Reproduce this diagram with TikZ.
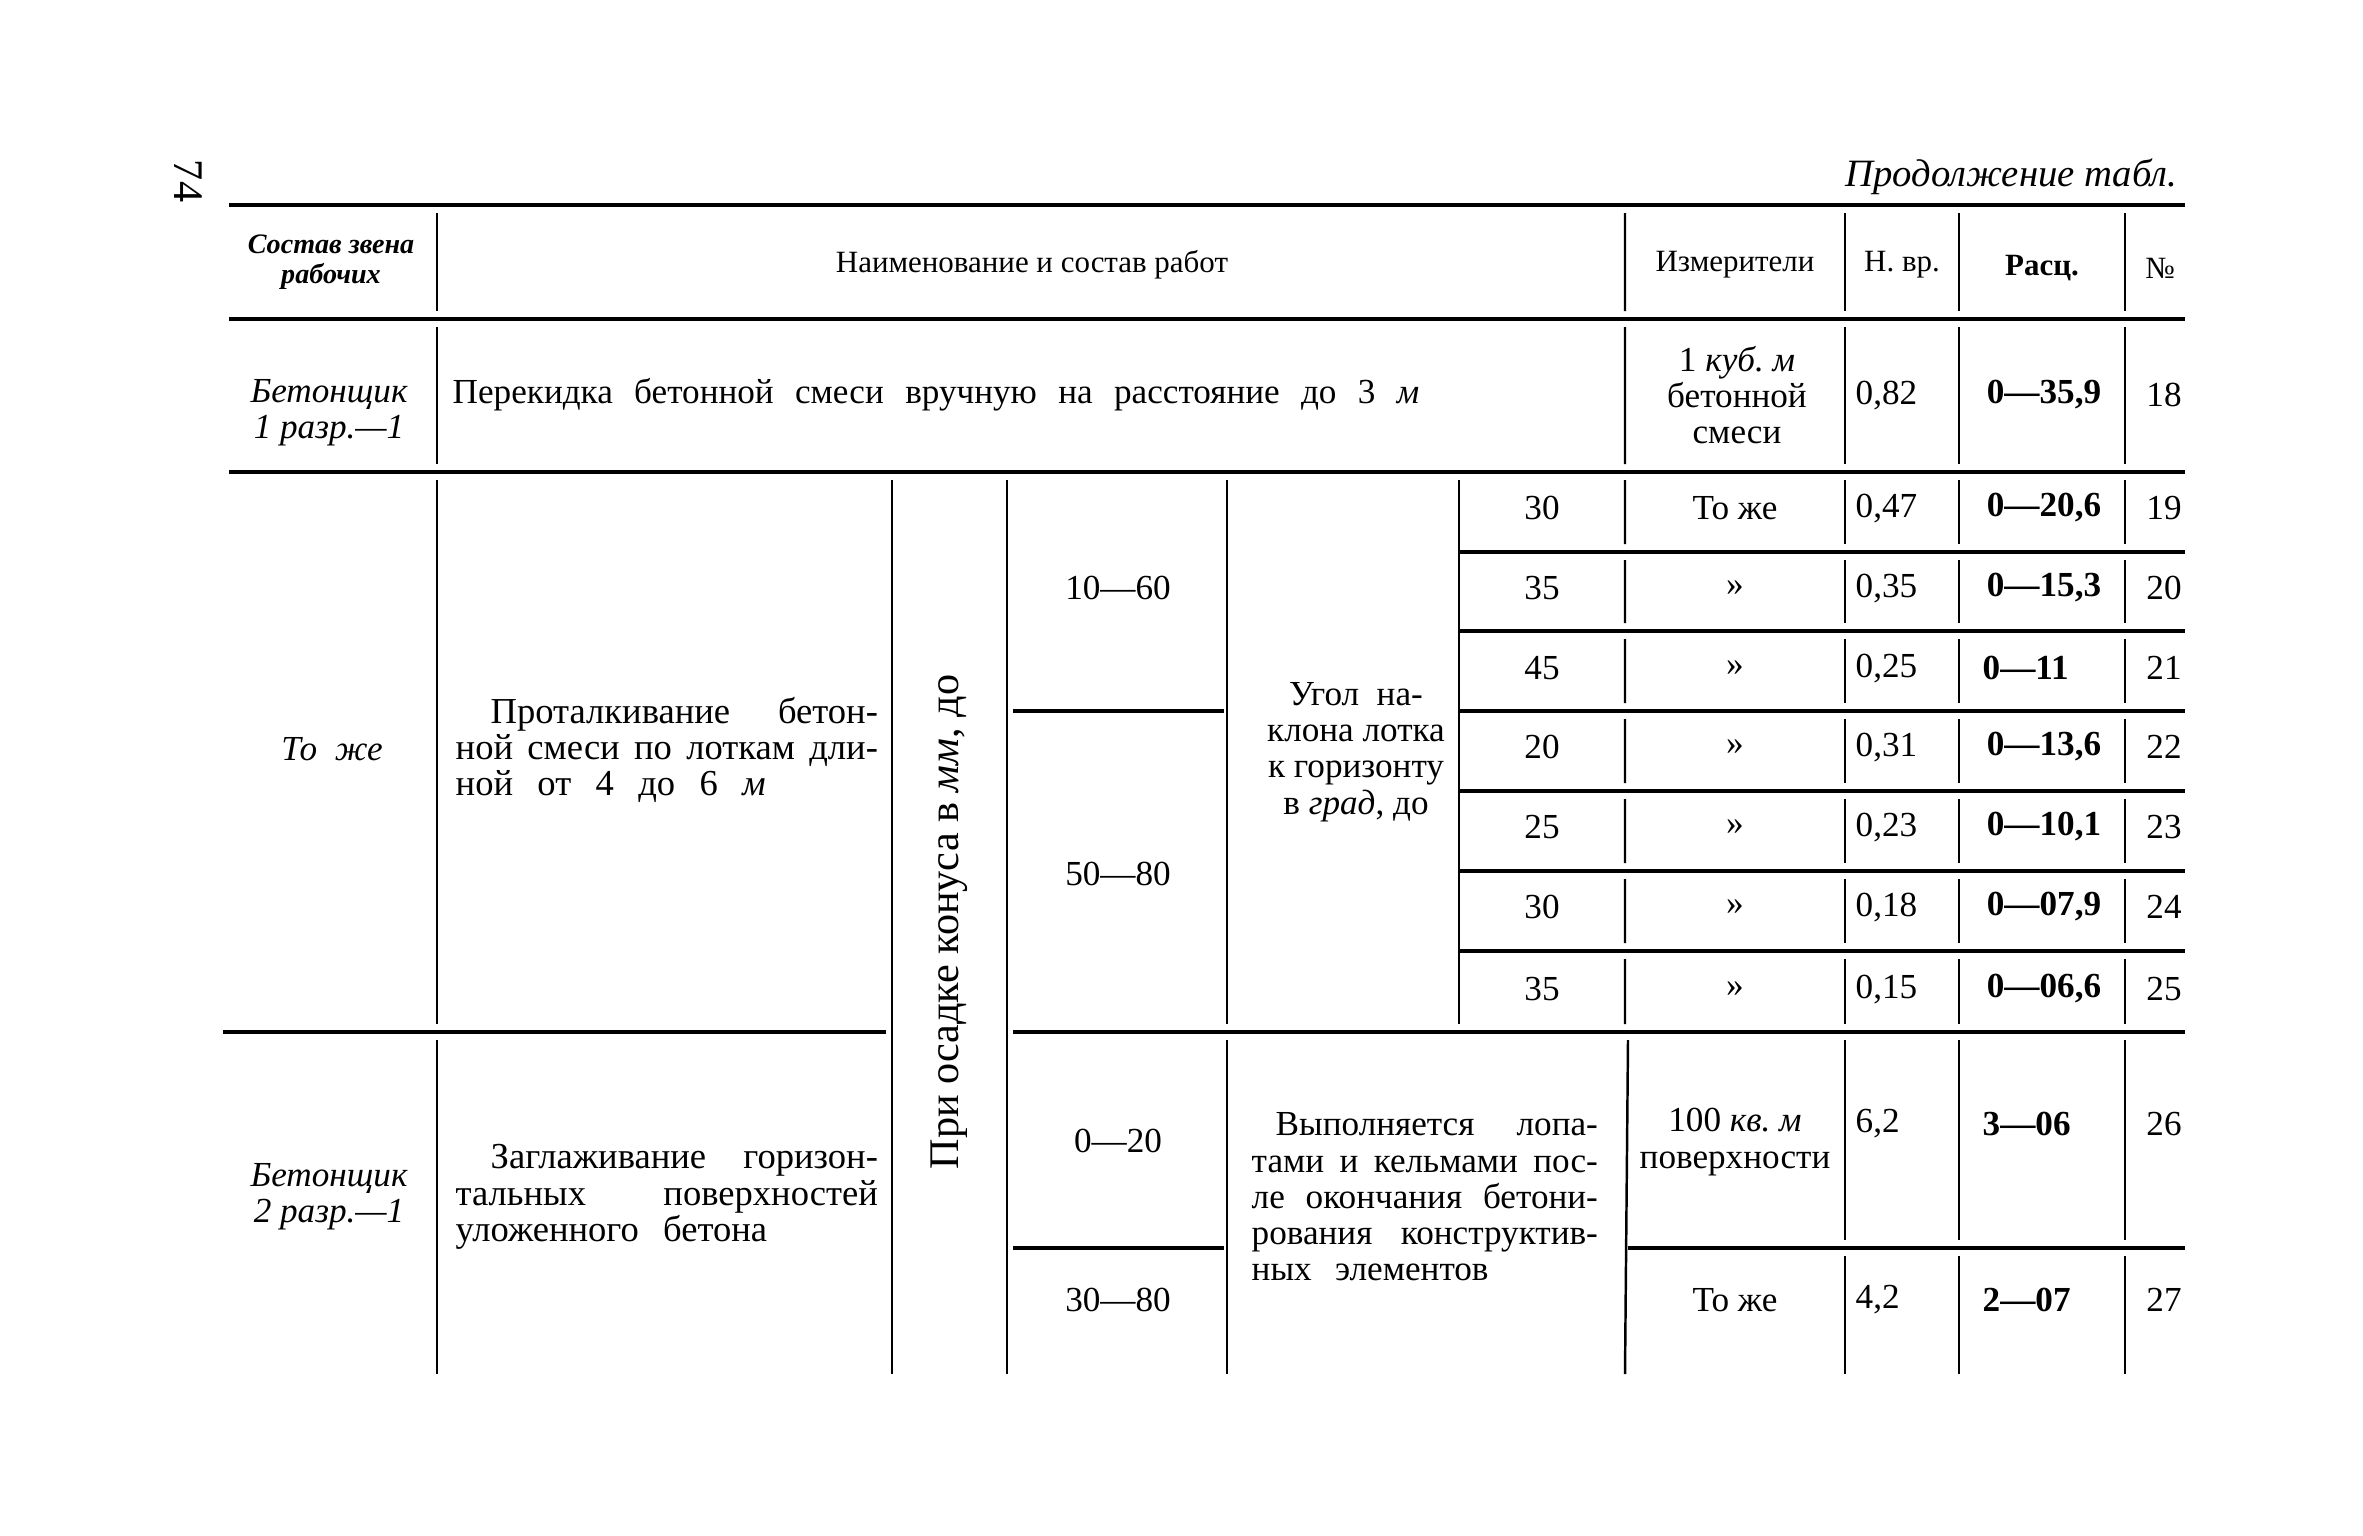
\documentclass[tikz,border=0pt]{standalone}
\usepackage{fontspec}
\setmainfont{Liberation Serif}
\newcommand{\jline}[2]{\leavevmode\hbox to #1{#2}}

\begin{document}
\begin{tikzpicture}[x=0.01cm, y=-0.01cm,
  rule/.style={line width=1.1pt},
  vrule/.style={line width=0.7pt},
  txt/.style={inner sep=0pt, font=\fontsize{10}{10.3}\selectfont},
  hdr/.style={inner sep=0pt, font=\fontsize{8.8}{9}\selectfont},
  para/.style={txt, align=left, anchor=west}]
  \useasboundingbox (0,0) rectangle (2363,1535);

  % page number and title
  \node[txt, rotate=-90, font=\fontsize{12}{12}\selectfont] (page) at (188,181) {74};
  \node[txt, anchor=base east, font=\fontsize{11}{11}\selectfont\itshape] (cont) at (2178,186) {Продолжение табл.};

  % horizontal rules
  \draw[rule] (229,205) -- (2185,205);
  \draw[rule] (229,319) -- (2185,319);
  \draw[rule] (229,472) -- (2185,472);
  \draw[rule] (1459,552) -- (2185,552);
  \draw[rule] (1459,631) -- (2185,631);
  \draw[rule] (1013,711) -- (1224,711) (1459,711) -- (2185,711);
  \draw[rule] (1459,791) -- (2185,791);
  \draw[rule] (1459,871) -- (2185,871);
  \draw[rule] (1459,951) -- (2185,951);
  \draw[rule] (223,1032) -- (886,1032) (1013,1032) -- (2185,1032);
  \draw[rule] (1013,1248) -- (1224,1248) (1628,1248) -- (2185,1248);

  % vertical rules
  \draw[vrule] (437,213) -- (437,311) (437,327) -- (437,464) (437,480) -- (437,1024) (437,1040) -- (437,1374);
  \draw[vrule] (892,480) -- (892,1374);
  \draw[vrule] (1007,480) -- (1007,1374);
  \draw[vrule] (1227,480) -- (1227,1024) (1227,1040) -- (1227,1374);
  \draw[vrule] (1459,480) -- (1459,1024);
  \draw[vrule] (1625,213) -- (1625,311) (1625,327) -- (1625,464) (1625,480) -- (1625,544) (1625,560) -- (1625,623)
    (1625,639) -- (1625,703) (1625,719) -- (1625,783) (1625,799) -- (1625,863) (1625,879) -- (1625,943)
    (1625,959) -- (1625,1024) (1628,1040) -- (1625,1374);
  \draw[vrule] (1845,213) -- (1845,311) (1845,327) -- (1845,464) (1845,480) -- (1845,544) (1845,560) -- (1845,623)
    (1845,639) -- (1845,703) (1845,719) -- (1845,783) (1845,799) -- (1845,863) (1845,879) -- (1845,943)
    (1845,959) -- (1845,1024) (1845,1040) -- (1845,1240) (1845,1256) -- (1845,1374);
  \draw[vrule] (1959,213) -- (1959,311) (1959,327) -- (1959,464) (1959,480) -- (1959,544) (1959,560) -- (1959,623)
    (1959,639) -- (1959,703) (1959,719) -- (1959,783) (1959,799) -- (1959,863) (1959,879) -- (1959,943)
    (1959,959) -- (1959,1024) (1959,1040) -- (1959,1240) (1959,1256) -- (1959,1374);
  \draw[vrule] (2125,213) -- (2125,311) (2125,327) -- (2125,464) (2125,480) -- (2125,544) (2125,560) -- (2125,623)
    (2125,639) -- (2125,703) (2125,719) -- (2125,783) (2125,799) -- (2125,863) (2125,879) -- (2125,943)
    (2125,959) -- (2125,1024) (2125,1040) -- (2125,1240) (2125,1256) -- (2125,1374);

  % header
  \node[hdr, align=center, font=\fontsize{8}{8.6}\selectfont\bfseries\itshape] (sostav) at (331,262) {Состав звена\\рабочих};
  \node[hdr] (naim) at (1032,265) {Наименование\ и\ состав\ работ};
  \node[hdr] (izm) at (1735,265) {Измерители};
  \node[hdr] (nvr) at (1902,265) {Н. вр.};
  \node[hdr, font=\fontsize{8.8}{9}\selectfont\bfseries] (rasc) at (2042,268) {Расц.};
  \node[hdr] (nomer) at (2160,268) {№};

  % row 18
  \node[txt, align=center, font=\fontsize{10}{10.3}\selectfont\itshape] (rab18) at (329,413) {Бетонщик\\1 разр.—1};
  \node[txt, anchor=west] (work18) at (452,395) {\jline{9.66cm}{Перекидка\hfill бетонной\hfill смеси\hfill вручную\hfill на\hfill расстояние\hfill до\hfill 3\hfill \textit{м}}};
  \node[txt, align=center] (izm18) at (1737,395) {1 \textit{куб.\ м}\\бетонной\\смеси};
  \node[txt, anchor=west] (nvr18) at (1855,395) {0,82};
  \node[txt, font=\fontsize{10}{10.3}\selectfont\bfseries] (rasc18) at (2044,395) {0—35,9};
  \node[txt] (n18) at (2164,395) {18};

  % rows 19-25
  \node[txt, font=\fontsize{10}{10.3}\selectfont\itshape] (rab19) at (332,749) {То\ \ же};
  \node[para, text width=4.22cm, font=\fontsize{10.4}{10.3}\selectfont] (work19) at (455,750) {\jline{4.22cm}{\hspace*{0.35cm}Проталкивание\hfill бетон-}\\\jline{4.22cm}{ной\hfill смеси\hfill по\hfill лоткам\hfill дли-}\\ной\ \ от\ \ 4\ \ до\ \ 6\ \ \textit{м}};
  \node[txt, rotate=90, font=\fontsize{12}{12}\selectfont] (osadka) at (949,922) {При осадке конуса в \textit{мм}, до};
  \node[txt] (kon1) at (1118,588) {10—60};
  \node[txt] (kon2) at (1118,874) {50—80};
  \node[txt, align=center] (ugol) at (1356,752) {Угол\ \ на-\\клона лотка\\к горизонту\\в \textit{град}, до};

  \node[txt] (deg19) at (1542,508) {30};
  \node[txt] (deg20) at (1542,588) {35};
  \node[txt] (deg21) at (1542,668) {45};
  \node[txt] (deg22) at (1542,747) {20};
  \node[txt] (deg23) at (1542,827) {25};
  \node[txt] (deg24) at (1542,907) {30};
  \node[txt] (deg25) at (1542,989) {35};

  \node[txt] (izm19) at (1735,508) {То же};
  \node[txt] (izm20) at (1735,588) {»};
  \node[txt] (izm21) at (1735,668) {»};
  \node[txt] (izm22) at (1735,747) {»};
  \node[txt] (izm23) at (1735,827) {»};
  \node[txt] (izm24) at (1735,907) {»};
  \node[txt] (izm25) at (1735,989) {»};

  \node[txt, anchor=west] (nvr19) at (1855,508) {0,47};
  \node[txt, anchor=west] (nvr20) at (1855,588) {0,35};
  \node[txt, anchor=west] (nvr21) at (1855,668) {0,25};
  \node[txt, anchor=west] (nvr22) at (1855,747) {0,31};
  \node[txt, anchor=west] (nvr23) at (1855,827) {0,23};
  \node[txt, anchor=west] (nvr24) at (1855,907) {0,18};
  \node[txt, anchor=west] (nvr25) at (1855,989) {0,15};

  \node[txt, font=\fontsize{10}{10.3}\selectfont\bfseries] (rasc19) at (2044,508) {0—20,6};
  \node[txt, font=\fontsize{10}{10.3}\selectfont\bfseries] (rasc20) at (2044,588) {0—15,3};
  \node[txt, font=\fontsize{10}{10.3}\selectfont\bfseries, anchor=west] (rasc21) at (1982,668) {0—11};
  \node[txt, font=\fontsize{10}{10.3}\selectfont\bfseries] (rasc22) at (2044,747) {0—13,6};
  \node[txt, font=\fontsize{10}{10.3}\selectfont\bfseries] (rasc23) at (2044,827) {0—10,1};
  \node[txt, font=\fontsize{10}{10.3}\selectfont\bfseries] (rasc24) at (2044,907) {0—07,9};
  \node[txt, font=\fontsize{10}{10.3}\selectfont\bfseries] (rasc25) at (2044,989) {0—06,6};

  \node[txt] (n19) at (2164,508) {19};
  \node[txt] (n20) at (2164,588) {20};
  \node[txt] (n21) at (2164,668) {21};
  \node[txt] (n22) at (2164,747) {22};
  \node[txt] (n23) at (2164,827) {23};
  \node[txt] (n24) at (2164,907) {24};
  \node[txt] (n25) at (2164,989) {25};

  % rows 26-27
  \node[txt, align=center, font=\fontsize{10}{10.3}\selectfont\itshape] (rab26) at (329,1197) {Бетонщик\\2 разр.—1};
  \node[para, text width=4.22cm, font=\fontsize{10.4}{10.3}\selectfont] (work26) at (455,1197) {\jline{4.22cm}{\hspace*{0.35cm}Заглаживание\hfill горизон-}\\\jline{4.22cm}{тальных\hfill поверхностей}\\уложенного\ \ бетона};
  \node[txt] (kon26) at (1118,1141) {0—20};
  \node[txt] (kon27) at (1118,1300) {30—80};
  \node[para, text width=3.46cm] (prim26) at (1251,1197) {\jline{3.46cm}{\hspace*{0.24cm}Выполняется\hfill лопа-}\\\jline{3.46cm}{тами\hfill и\hfill кельмами\hfill пос-}\\\jline{3.46cm}{ле\hfill окончания\hfill бетони-}\\\jline{3.46cm}{рования\hfill конструктив-}\\ных\ \ элементов};
  \node[txt, align=center] (izm26) at (1735,1142) {100 \textit{кв.\ м}\\поверхности};
  \node[txt, anchor=west] (nvr26) at (1855,1124) {6,2};
  \node[txt, font=\fontsize{10}{10.3}\selectfont\bfseries, anchor=west] (rasc26) at (1982,1124) {3—06};
  \node[txt] (n26) at (2164,1124) {26};
  \node[txt] (izm27) at (1735,1300) {То же};
  \node[txt, anchor=west] (nvr27) at (1855,1300) {4,2};
  \node[txt, font=\fontsize{10}{10.3}\selectfont\bfseries, anchor=west] (rasc27) at (1982,1300) {2—07};
  \node[txt] (n27) at (2164,1300) {27};
\end{tikzpicture}
\end{document}
